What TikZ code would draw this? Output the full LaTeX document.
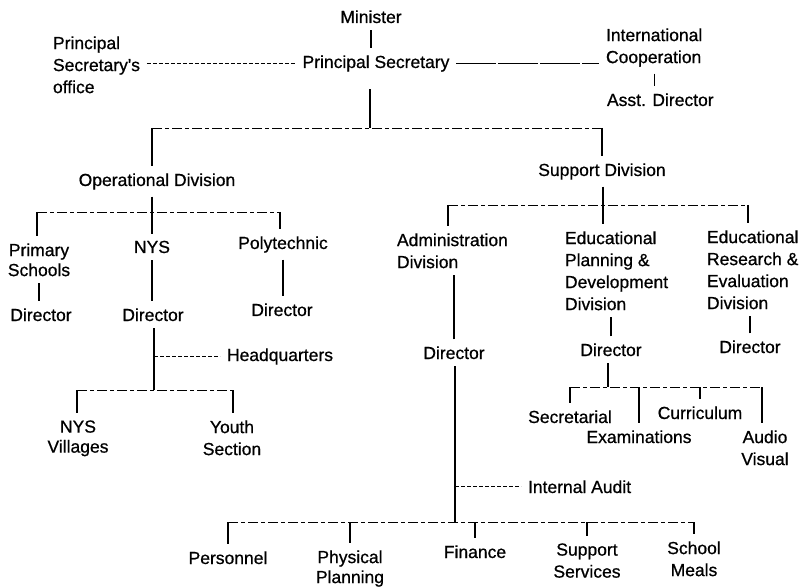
\documentclass[tikz,border=0pt]{standalone}
\usepackage{fontspec}
\setmainfont{Liberation Sans}
\newfontfamily\heavyfont{Liberation Sans}[FakeBold=0.7]
\begin{document}
\begin{tikzpicture}[x=1pt,y=-1pt,
  lbl/.style={font=\heavyfont\fontsize{17.5}{22}\selectfont, inner sep=0pt, outer sep=7pt},
  ml/.style={lbl, align=left},
  mc/.style={lbl, align=center},
  mcn/.style={font=\heavyfont\fontsize{17.5}{20}\selectfont, inner sep=0pt, outer sep=7pt, align=center},
  link/.style={line width=1.1pt},
  bus/.style={line width=0.9pt, dash pattern=on 10pt off 3pt on 4pt off 3pt},
  side/.style={line width=0.9pt, dash pattern=on 4pt off 2pt},
  longdash/.style={line width=0.9pt, dash pattern=on 40pt off 2pt}]
\fill[white] (0,0) rectangle (801,588);
\useasboundingbox (0,0) rectangle (801,588);

% top level
\node[lbl, anchor=base] (min) at (371,23) {Minister};
\node[lbl, anchor=base] (ps) at (376,68) {Principal Secretary};
\node[ml, anchor=north west] (pso) at (46,29.4) {Principal\\Secretary's\\office};
\node[ml, anchor=north west] (ic) at (599,21.4) {International\\Cooperation};
\node[lbl, anchor=base west] (ad) at (600,106) {Asst. Director};

% divisions
\node[lbl, anchor=base] (od) at (157,186) {Operational Division};
\node[lbl, anchor=base] (sd) at (602,176) {Support Division};

% operational branch
\node[mcn, anchor=north] (prim) at (39,236.4) {Primary\\Schools};
\node[lbl, anchor=base] (dir1) at (41,321) {Director};
\node[lbl, anchor=base] (nys) at (152,253) {NYS};
\node[lbl, anchor=base] (dir2) at (153,321) {Director};
\node[lbl, anchor=base] (poly) at (283,249) {Polytechnic};
\node[lbl, anchor=base] (dir3) at (282,316) {Director};
\node[lbl, anchor=base west] (hq) at (220,361) {Headquarters};
\node[mcn, anchor=north] (nysv) at (78,413.4) {NYS\\Villages};
\node[mc, anchor=north] (youth) at (232,413.4) {Youth\\Section};

% support branch
\node[ml, anchor=north west] (adm) at (390,226.4) {Administration\\Division};
\node[lbl, anchor=base] (dir4) at (454,359) {Director};
\node[ml, anchor=north west] (epd) at (558,224.4) {Educational\\Planning \&\\Development\\Division};
\node[lbl, anchor=base] (dir5) at (611,356) {Director};
\node[ml, anchor=north west] (ere) at (700,223.4) {Educational\\Research \&\\Evaluation\\Division};
\node[lbl, anchor=base] (dir6) at (750,353) {Director};
\node[lbl, anchor=base] (sec) at (570,423) {Secretarial};
\node[lbl, anchor=base] (exam) at (639,443) {Examinations};
\node[lbl, anchor=base] (cur) at (700,419) {Curriculum};
\node[mc, anchor=north] (av) at (765,423.4) {Audio\\Visual};
\node[lbl, anchor=base west] (ia) at (521,493) {Internal Audit};
\node[lbl, anchor=base] (pers) at (228,564) {Personnel};
\node[mcn, anchor=north] (phys) at (350,543.4) {Physical\\Planning};
\node[lbl, anchor=base] (fin) at (475,558) {Finance};
\node[mc, anchor=north] (ss) at (587,536.4) {Support\\Services};
\node[mc, anchor=north] (sm) at (694,534.4) {School\\Meals};

% junction coordinates
\coordinate (tb) at (370,128);
\coordinate (tbl) at (152,128);
\coordinate (tbr) at (602,128);
\coordinate (ob) at (152,212);
\coordinate (obl) at (37,212);
\coordinate (obr) at (280,212);
\coordinate (nb) at (154,390);
\coordinate (nbl) at (77,390);
\coordinate (nbr) at (233,390);
\coordinate (sb) at (603,205);
\coordinate (sbl) at (448,205);
\coordinate (sbr) at (748,205);
\coordinate (eb) at (608,387);
\coordinate (ebl) at (570,387);
\coordinate (ebr) at (762,387);
\coordinate (bb) at (455,522);

% top connectors
\draw[link] (min.south) -- (min.south |- ps.north);
\draw[side] (pso.east |- ps.west) -- (ps.west);
\draw[longdash] (ps.east) -- (ps.east -| ic.west);
\draw[link] (ic.south) -- (ic.south |- ad.north);
\draw[link, shorten >=10pt] (tb) -- (tb |- ps.south);
\draw[bus] (tbl) -- (tbr);
\draw[link] (tbl) -- (od.north -| tbl);
\draw[link] (tbr) -- (sd.north -| tbr);

% operational division
\draw[link] (od.south -| ob) -- (nys.north -| ob);
\draw[bus] (obl) -- (obr);
\draw[link] (obl) -- (prim.north -| obl);
\draw[link] (obr) -- (poly.north -| obr);
\draw[link] (prim.south) -- (prim.south |- dir1.north);
\draw[link] (nys.south) -- (nys.south |- dir2.north);
\draw[link] (poly.south) -- (poly.south |- dir3.north);
\draw[link] (dir2.south -| nb) -- (nb);
\draw[side] (hq.west -| nb) -- (hq.west);
\draw[bus] (nbl) -- (nbr);
\draw[link] (nbl) -- (nysv.north -| nbl);
\draw[link] (nbr) -- (youth.north -| nbr);

% support division
\draw[link] (sd.south -| sb) -- (epd.north -| sb);
\draw[bus] (sbl) -- (sbr);
\draw[link] (sbl) -- (adm.north -| sbl);
\draw[link] (sbr) -- (ere.north -| sbr);
\draw[link] (dir4.north) -- (dir4.north |- adm.south);
\draw[link] (dir5.north) -- (dir5.north |- epd.south);
\draw[link] (dir6.north) -- (dir6.north |- ere.south);
\draw[link] (dir5.south -| eb) -- (eb);
\draw[bus] (ebl) -- (ebr);
\draw[link] (ebl) -- (sec.north -| ebl);
\draw[link] (exam.north |- ebl) -- (exam.north);
\draw[link] (cur.north |- ebl) -- (cur.north);
\draw[link] (ebr) -- (av.north -| ebr);

% administration
\draw[link] (dir4.south -| bb) -- (bb);
\draw[side] (ia.west -| bb) -- (ia.west);
\draw[bus] (pers.north |- bb) -- (sm.north |- bb);
\draw[link] (pers.north |- bb) -- (pers.north);
\draw[link] (phys.north |- bb) -- (phys.north);
\draw[link] (fin.north |- bb) -- (fin.north);
\draw[link] (ss.north |- bb) -- (ss.north);
\draw[link] (sm.north |- bb) -- (sm.north);
\end{tikzpicture}
\end{document}
